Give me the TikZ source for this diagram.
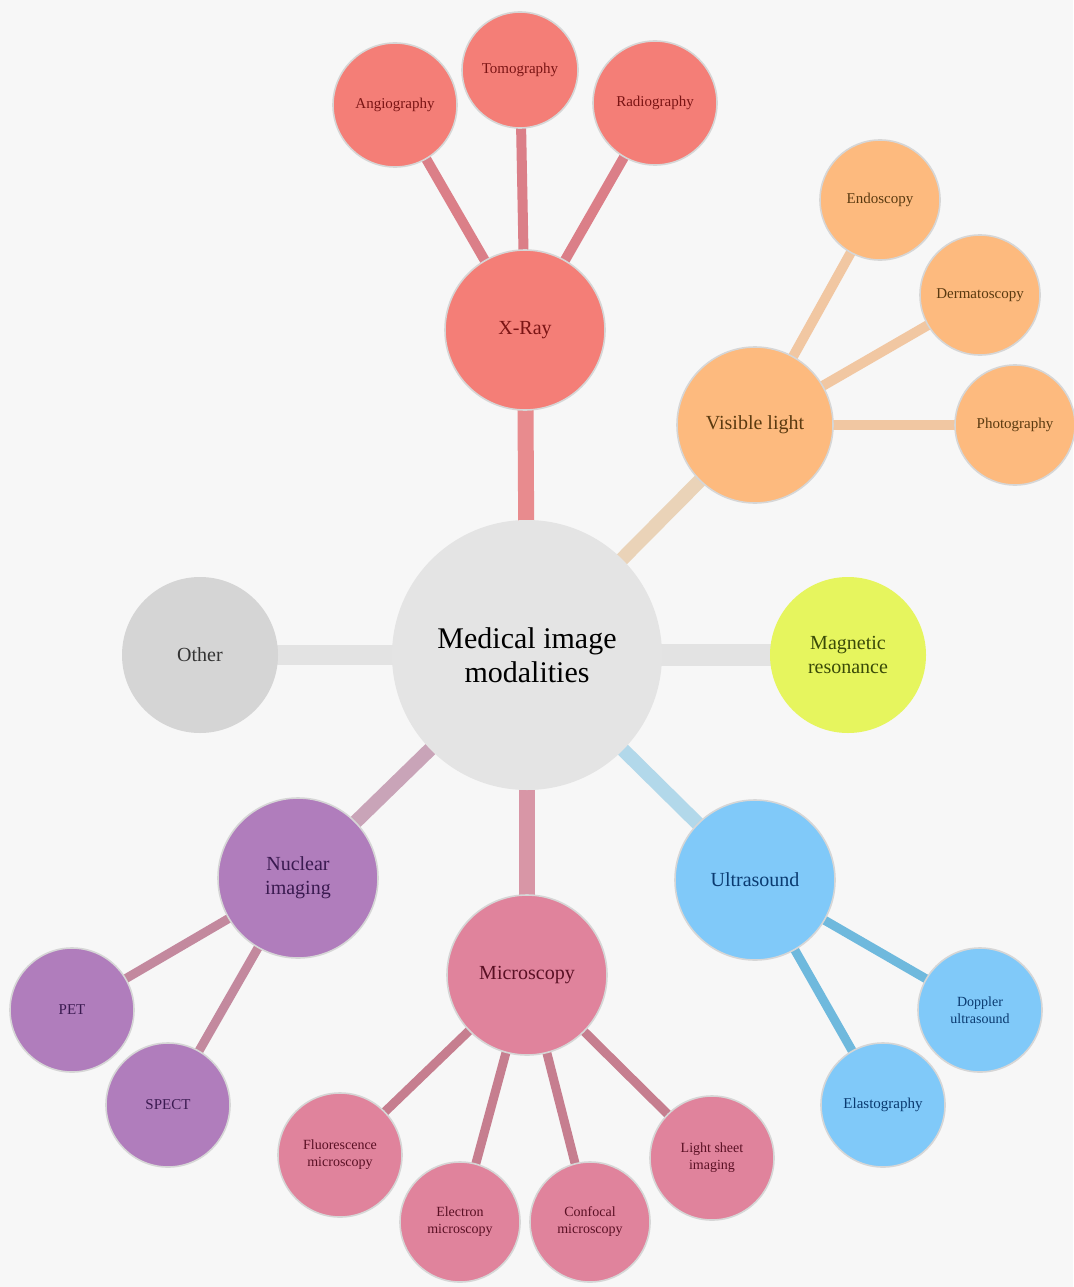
\documentclass[tikz,border=0pt]{standalone}
\usepackage{fontspec}
\setmainfont{Liberation Serif}
\pgfdeclarelayer{back}
\pgfdeclarelayer{bg}
\pgfsetlayers{back,bg,main}
\definecolor{bgc}{HTML}{F7F7F7}
\definecolor{cen}{HTML}{E4E4E4}
\definecolor{xr}{HTML}{F47E77}
\definecolor{vl}{HTML}{FDBA7E}
\definecolor{mr}{HTML}{E6F55E}
\definecolor{oth}{HTML}{D5D5D5}
\definecolor{nu}{HTML}{B07DBC}
\definecolor{mi}{HTML}{E0839C}
\definecolor{us}{HTML}{80C9F9}
\definecolor{xrT}{HTML}{7A1414}
\definecolor{vlT}{HTML}{5A3A10}
\definecolor{mrT}{HTML}{3A4A08}
\definecolor{othT}{HTML}{333333}
\definecolor{nuT}{HTML}{3A1A50}
\definecolor{miT}{HTML}{5A1024}
\definecolor{usT}{HTML}{0A3A70}
\definecolor{xrL}{HTML}{DB7F88}
\definecolor{xrC}{HTML}{E88B8E}
\definecolor{vlL}{HTML}{F1C7A2}
\definecolor{vlC}{HTML}{EAD3B8}
\definecolor{grC}{HTML}{E3E3E3}
\definecolor{nuC}{HTML}{C9A4B8}
\definecolor{nuL}{HTML}{C3899E}
\definecolor{miC}{HTML}{D896A6}
\definecolor{miL}{HTML}{C67E8F}
\definecolor{usC}{HTML}{B2D8EA}
\definecolor{usL}{HTML}{6FB9DD}
\tikzset{
  bub/.style={circle, inner sep=0pt, align=center, minimum size=#1, draw=black!16, line width=1.6pt},
  bigtxt/.style={font=\fontsize{20}{24}\selectfont},
  leaftxt/.style={font=\fontsize{15}{17}\selectfont},
  conn/.style={line cap=round}
}
\begin{document}
\begin{tikzpicture}[x=1pt,y=-1pt]
\useasboundingbox (0,0) rectangle (1073,1287);
\begin{pgfonlayer}{back}
\fill[bgc] (0,0) rectangle (1073,1287);
\end{pgfonlayer}

% central
\node[bub=270pt, fill=cen, draw=none, font=\fontsize{30}{34}\selectfont] (c) at (527,655) {Medical image\\modalities};

% X-Ray
\node[bub=160pt, fill=xr, bigtxt, text=xrT] (xray) at (525,330) {X-Ray};
\node[bub=124pt, fill=xr, leaftxt, text=xrT] (angio) at (395,105) {Angiography};
\node[bub=116pt, fill=xr, leaftxt, text=xrT] (tomo) at (520,70) {Tomography};
\node[bub=124pt, fill=xr, leaftxt, text=xrT] (radio) at (655,103) {Radiography};

% Visible light
\node[bub=156pt, fill=vl, bigtxt, text=vlT] (vis) at (755,425) {Visible light};
\node[bub=120pt, fill=vl, leaftxt, text=vlT] (endo) at (880,200) {Endoscopy};
\node[bub=120pt, fill=vl, leaftxt, text=vlT] (derm) at (980,295) {Dermatoscopy};
\node[bub=120pt, fill=vl, leaftxt, text=vlT] (photo) at (1015,425) {Photography};

% MR
\node[bub=156pt, fill=mr, draw=none, bigtxt, text=mrT] (mri) at (848,655) {Magnetic\\resonance};

% Other
\node[bub=156pt, fill=oth, draw=none, bigtxt, text=othT] (other) at (200,655) {Other};

% Nuclear
\node[bub=160pt, fill=nu, bigtxt, text=nuT] (nuc) at (298,878) {Nuclear\\imaging};
\node[bub=124pt, fill=nu, leaftxt, text=nuT] (pet) at (72,1010) {PET};
\node[bub=124pt, fill=nu, leaftxt, text=nuT] (spect) at (168,1105) {SPECT};

% Microscopy
\node[bub=160pt, fill=mi, bigtxt, text=miT] (micro) at (527,975) {Microscopy};
\node[bub=124pt, fill=mi, font=\fontsize{14}{17}\selectfont, text=miT] (m1) at (340,1155) {Fluorescence\\microscopy};
\node[bub=120pt, fill=mi, font=\fontsize{14}{17}\selectfont, text=miT] (m2) at (460,1222) {Electron\\microscopy};
\node[bub=120pt, fill=mi, font=\fontsize{14}{17}\selectfont, text=miT] (m3) at (590,1222) {Confocal\\microscopy};
\node[bub=124pt, fill=mi, font=\fontsize{14}{17}\selectfont, text=miT] (m4) at (712,1158) {Light sheet\\imaging};

% Ultrasound
\node[bub=160pt, fill=us, bigtxt, text=usT] (ultra) at (755,880) {Ultrasound};
\node[bub=124pt, fill=us, font=\fontsize{14}{17}\selectfont, text=usT] (dopp) at (980,1010) {Doppler\\ultrasound};
\node[bub=124pt, fill=us, leaftxt, text=usT] (elast) at (883,1105) {Elastography};

\begin{pgfonlayer}{bg}
% main branches
\draw[conn, xrC, line width=16pt] (c.center) -- (xray.center);
\draw[conn, vlC, line width=14pt] (c.center) -- (vis.center);
\draw[conn, grC, line width=22pt] (c.center) -- (mri.center);
\draw[conn, grC, line width=20pt] (c.center) -- (other.center);
\draw[conn, nuC, line width=14pt] (c.center) -- (nuc.center);
\draw[conn, miC, line width=16pt] (c.center) -- (micro.center);
\draw[conn, usC, line width=14pt] (c.center) -- (ultra.center);
% sub-branches
\draw[conn, xrL, line width=10pt] (xray.center) -- (angio.center);
\draw[conn, xrL, line width=10pt] (xray.center) -- (tomo.center);
\draw[conn, xrL, line width=10pt] (xray.center) -- (radio.center);
\draw[conn, vlL, line width=10pt] (vis.center) -- (endo.center);
\draw[conn, vlL, line width=10pt] (vis.center) -- (derm.center);
\draw[conn, vlL, line width=10pt] (vis.center) -- (photo.center);
\draw[conn, nuL, line width=9pt] (nuc.center) -- (pet.center);
\draw[conn, nuL, line width=9pt] (nuc.center) -- (spect.center);
\draw[conn, miL, line width=9pt] (micro.center) -- (m1.center);
\draw[conn, miL, line width=9pt] (micro.center) -- (m2.center);
\draw[conn, miL, line width=9pt] (micro.center) -- (m3.center);
\draw[conn, miL, line width=9pt] (micro.center) -- (m4.center);
\draw[conn, usL, line width=9pt] (ultra.center) -- (dopp.center);
\draw[conn, usL, line width=9pt] (ultra.center) -- (elast.center);
\end{pgfonlayer}
\end{tikzpicture}
\end{document}
